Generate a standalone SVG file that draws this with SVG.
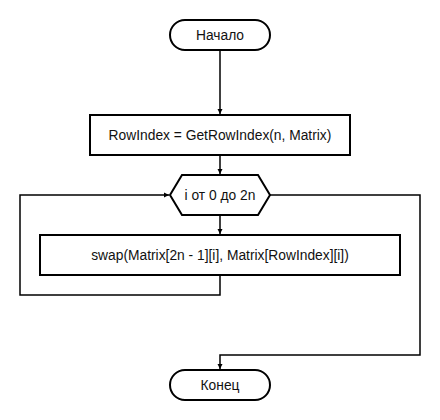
<svg xmlns="http://www.w3.org/2000/svg" width="440" height="420" viewBox="0 0 440 420">
<style>
.shape{fill:#fff;stroke:#000;stroke-width:2}
.conn{fill:none;stroke:#000;stroke-width:1.5}
text{font-family:"Liberation Sans",Arial,sans-serif;font-size:13.8px;fill:#111;text-anchor:middle;dominant-baseline:central}
</style>
<defs>
<marker id="arr" markerWidth="6" markerHeight="6" refX="5" refY="3" orient="auto" markerUnits="userSpaceOnUse">
<path d="M0,0.5 L5,3 L0,5.5 Z" fill="#000"/>
</marker>
</defs>
<g id="connectors">
<path class="conn" d="M220,50 V114" marker-end="url(#arr)"/>
<path class="conn" d="M220,155 V174" marker-end="url(#arr)"/>
<path class="conn" d="M220,215 V234" marker-end="url(#arr)"/>
<path class="conn" d="M220,275 V295 H20 V195 H169" marker-end="url(#arr)"/>
<path class="conn" d="M270,195 H420 V355 H220 V369" marker-end="url(#arr)"/>
</g>
<g id="start">
<rect class="shape" x="170" y="20" width="100" height="30" rx="15" ry="15"/>
<text x="220" y="35">Начало</text>
</g>
<g id="getrow">
<rect class="shape" x="90" y="115" width="260" height="40"/>
<text x="220" y="135">RowIndex = GetRowIndex(n, Matrix)</text>
</g>
<g id="loop">
<polygon class="shape" points="170,195 182,175 258,175 270,195 258,215 182,215"/>
<text x="220" y="195">i от 0 до 2n</text>
</g>
<g id="swap">
<rect class="shape" x="40" y="235" width="360" height="40"/>
<text x="220" y="255">swap(Matrix[2n - 1][i], Matrix[RowIndex][i])</text>
</g>
<g id="end">
<rect class="shape" x="170" y="370" width="100" height="30" rx="15" ry="15"/>
<text x="220" y="385">Конец</text>
</g>
</svg>
